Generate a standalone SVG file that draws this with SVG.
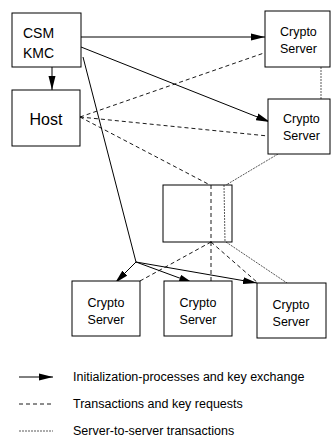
<svg xmlns="http://www.w3.org/2000/svg" width="331" height="439" viewBox="0 0 331 439">
<style>
  .box{fill:#fff;stroke:#000;stroke-width:1}
  .t{font-family:"Liberation Sans",Arial,sans-serif;fill:#000}
  .n{font-size:12.5px}
  .solid{stroke:#000;stroke-width:1;fill:none}
  .tx{stroke:#000;stroke-width:0.9;stroke-dasharray:4,3;fill:none}
  .ss{stroke:#111;stroke-width:0.7;stroke-dasharray:2,1;fill:none}
</style>
<defs>
  <marker id="ah" markerUnits="userSpaceOnUse" markerWidth="15" markerHeight="8" refX="14" refY="4" orient="auto">
    <path d="M0,0.5 L14,4 L0,7.5 Z" fill="#000"/>
  </marker>
</defs>
<rect width="331" height="439" fill="#fff"/>
<g id="connectors">
  <line class="solid" x1="52" y1="67" x2="52" y2="90" marker-end="url(#ah)"/>
  <line class="solid" x1="81" y1="37" x2="265" y2="37" marker-end="url(#ah)"/>
  <line class="solid" x1="81" y1="47" x2="270" y2="122" marker-end="url(#ah)"/>
  <line class="solid" x1="83" y1="57" x2="136" y2="262"/>
  <line class="solid" x1="136" y1="262" x2="115" y2="283" marker-end="url(#ah)"/>
  <line class="solid" x1="136" y1="262" x2="193" y2="283" marker-end="url(#ah)"/>
  <line class="solid" x1="136" y1="262" x2="257" y2="283" marker-end="url(#ah)"/>
  <line class="tx" x1="80" y1="117" x2="264" y2="53"/>
  <line class="tx" x1="80" y1="117" x2="268" y2="136"/>
  <line class="tx" x1="80" y1="117" x2="210" y2="185"/>
  <line class="tx" x1="211" y1="185" x2="211" y2="242" stroke="#555"/>
  <line class="tx" x1="211" y1="242" x2="140" y2="281"/>
  <line class="tx" x1="211" y1="242" x2="211" y2="281"/>
  <line class="tx" x1="211" y1="242" x2="258" y2="283"/>
  <line class="ss" x1="321" y1="67" x2="321" y2="99"/>
  <line class="ss" x1="278" y1="154" x2="226" y2="185"/>
  <line class="ss" x1="224" y1="185" x2="225" y2="242"/>
  <line class="ss" x1="226" y1="242" x2="287" y2="283"/>
</g>
<g id="csm">
  <rect class="box" x="12" y="13" width="69" height="54"/>
  <text class="t" x="23" y="38" font-size="14">CSM</text>
  <text class="t" x="23" y="58" font-size="14">KMC</text>
</g>
<g id="host">
  <rect class="box" x="12" y="90" width="68" height="56"/>
  <text class="t" x="46" y="125" font-size="16" text-anchor="middle">Host</text>
</g>
<g id="server1">
  <rect class="box" x="265" y="11" width="65" height="56"/>
  <text class="t n" x="280" y="36">Crypto</text>
  <text class="t n" x="280" y="53">Server</text>
</g>
<g id="server2">
  <rect class="box" x="268" y="99" width="62" height="55"/>
  <text class="t n" x="283" y="123">Crypto</text>
  <text class="t n" x="283" y="140">Server</text>
</g>
<g id="network">
  <rect x="163" y="185" width="69" height="57" fill="none" stroke="#000" stroke-width="1"/>
</g>
<g id="server3">
  <rect class="box" x="72" y="281" width="68" height="55"/>
  <text class="t n" x="106" y="307" text-anchor="middle">Crypto</text>
  <text class="t n" x="106" y="324" text-anchor="middle">Server</text>
</g>
<g id="server4">
  <rect class="box" x="164" y="281" width="68" height="55"/>
  <text class="t n" x="198" y="307" text-anchor="middle">Crypto</text>
  <text class="t n" x="198" y="324" text-anchor="middle">Server</text>
</g>
<g id="server5">
  <rect class="box" x="257" y="283" width="69" height="55"/>
  <text class="t n" x="291" y="309" text-anchor="middle">Crypto</text>
  <text class="t n" x="291" y="326" text-anchor="middle">Server</text>
</g>
<g id="legend">
  <line class="solid" x1="19" y1="377" x2="53" y2="377" marker-end="url(#ah)"/>
  <line class="tx" x1="19" y1="404" x2="52" y2="404" stroke-dasharray="3,3"/>
  <line class="ss" x1="19" y1="431" x2="53" y2="431"/>
  <text class="t" x="73" y="381" font-size="12.5">Initialization-processes and key exchange</text>
  <text class="t" x="73" y="408" font-size="12.5">Transactions and key requests</text>
  <text class="t" x="73" y="435" font-size="12.5">Server-to-server transactions</text>
</g>
</svg>
